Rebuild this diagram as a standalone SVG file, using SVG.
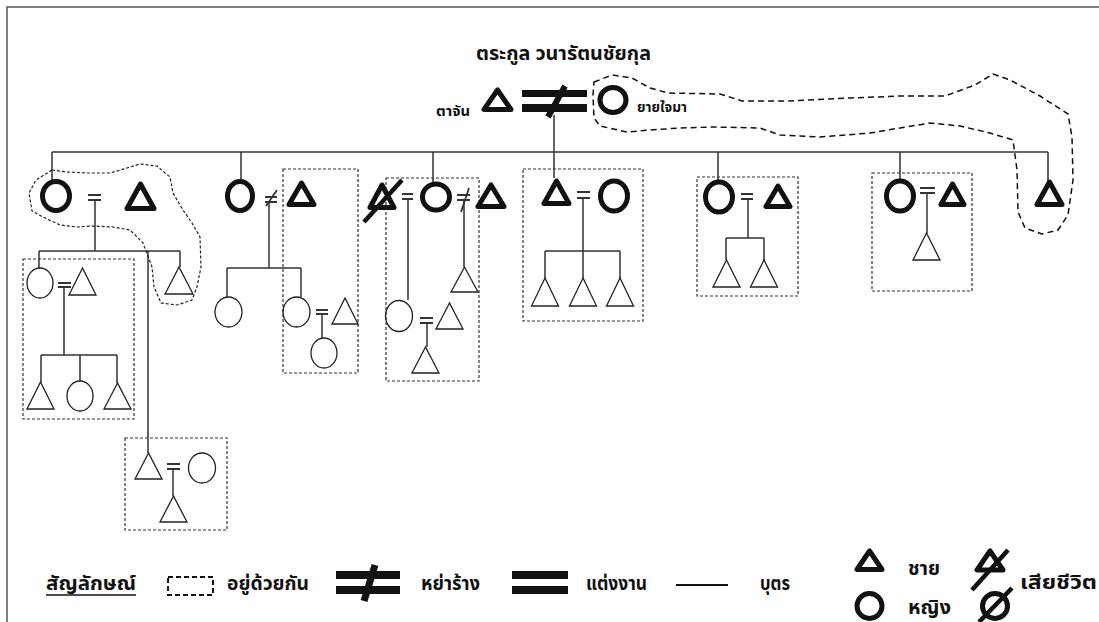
<svg xmlns="http://www.w3.org/2000/svg" width="1099" height="622" viewBox="0 0 1099 622">
<style>
text{font-family:"Noto Sans Thai","Noto Sans","DejaVu Sans",sans-serif;fill:#111;font-weight:bold}
.tk{fill:none;stroke:#111;stroke-width:5;stroke-linejoin:round}
.tn{fill:none;stroke:#222;stroke-width:1.3}
.ln{fill:none;stroke:#333;stroke-width:1.5}
.eq{stroke:#333;stroke-width:1.8}
.box{fill:none;stroke:#333;stroke-width:1.2;stroke-dasharray:3 2}
.cl{fill:none;stroke:#222;stroke-width:1.2;stroke-dasharray:3 2;stroke-linejoin:round}
.cl2{fill:none;stroke:#111;stroke-width:1.5;stroke-dasharray:6 4;stroke-linejoin:round}
.bar{fill:#111}
.sl{stroke:#111;stroke-width:6}
.lg{font-size:18.5px}
</style>
<rect width="1099" height="622" fill="#fff"/>
<path d="M7,622 V7 H1099" fill="none" stroke="#555" stroke-width="1.5"/>
<text x="476" y="60" font-size="19.5" textLength="175" lengthAdjust="spacingAndGlyphs">ตระกูล วนารัตนชัยกุล</text>

<g id="connectors" class="ln">
<path d="M554,115 V178"/>
<path d="M52,152 H1048"/>
<path d="M52,152 V181 M241,152 V181 M433,152 V182 M718,152 V182 M900,152 V181 M1048,152 V181"/>
<path d="M95,200 V251 M39,251 H180 M39,251 V268 M180,251 V267 M148,251 V453"/>
<path d="M64,287 V355 M41,355 H117 M41,355 V382 M80,355 V381 M117,355 V383"/>
<path d="M173,469 V496"/>
<path d="M269,202 V268 M227,268 H301 M227,268 V297 M301,268 V297 M322,314 V338"/>
<path d="M408,199 V300 M464,200 V267 M427,323 V347"/>
<path d="M583,198 V251 M545,251 H620 M545,251 V278 M583,251 V278 M620,251 V278"/>
<path d="M748,199 V238 M726,238 H764 M726,238 V260 M764,238 V260"/>
<path d="M927,193 V233"/>
</g>

<g id="marriages" class="eq">
<path d="M88,195 H101 M88,200 H101"/>
<path d="M58,283 H71 M58,287 H71"/>
<path d="M167,464 H180 M167,469 H180"/>
<path d="M265,197 H277 M265,202 H277 M277,190 L266,206"/>
<path d="M316,310 H328 M316,314 H328"/>
<path d="M402,194 H413 M402,199 H413"/>
<path d="M457,195 H470 M457,200 H470 M469,188 L461,212"/>
<path d="M420,318 H433 M420,323 H433"/>
<path d="M577,192 H590 M577,198 H590"/>
<path d="M741,194 H753 M741,199 H753"/>
<path d="M920,188 H935 M920,193 H935"/>
</g>

<g id="ancestors">
<g id="p-tajan">
<text x="436" y="116" font-size="14" textLength="34" lengthAdjust="spacingAndGlyphs">ตาจัน</text>
<polygon class="tk" points="497.5,90 484,109.5 511,109.5"/>
</g>
<g id="m-top">
<rect class="bar" x="522" y="90" width="65" height="7"/>
<rect class="bar" x="522" y="104" width="65" height="8"/>
<line class="sl" x1="565" y1="86" x2="548" y2="117"/>
</g>
<g id="p-yai">
<ellipse class="tk" cx="613" cy="100" rx="13" ry="12.5"/>
<text x="637" y="112" font-size="14" textLength="50" lengthAdjust="spacingAndGlyphs">ยายใจมา</text>
</g>
</g>

<g id="family1">
<path class="cl" d="M52,170 L67,172 L87,173 L110,173 L127,168 L140,164 L157,166 L170,177 L173,193 L183,210 L192,223 L200,237 L201,267 L197,287 L192,300 L177,305 L161,303 L154,287 L152,267 L143,243 L130,230 L113,227 L93,226 L77,227 L60,225 L43,217 L32,211 L29,193 L36,180 Z"/>
<ellipse class="tk" cx="56" cy="196" rx="13.5" ry="14.5"/>
<polygon class="tk" points="140.5,184 127,208.5 154,208.5"/>
<polygon class="tn" points="179,267 165,294 193,294"/>
<g id="family1a">
<rect class="box" x="23" y="259" width="111" height="160"/>
<ellipse class="tn" cx="40" cy="283" rx="13" ry="15"/>
<polygon class="tn" points="82.5,268 69,295 96,295"/>
<polygon class="tn" points="40.5,382 27,409 54,409"/>
<ellipse class="tn" cx="80" cy="396" rx="13" ry="15"/>
<polygon class="tn" points="117.5,383 104,409 131,409"/>
</g>
<g id="family1b">
<rect class="box" x="125" y="438" width="102" height="92"/>
<polygon class="tn" points="148.5,453 135,479 162,479"/>
<ellipse class="tn" cx="202" cy="468" rx="13.5" ry="15"/>
<polygon class="tn" points="173.5,496 160,522 187,522"/>
</g>
</g>

<g id="family2">
<rect class="box" x="283" y="169" width="75" height="204"/>
<ellipse class="tk" cx="240" cy="196" rx="12.5" ry="14.5"/>
<polygon class="tk" points="301.5,183 289,204.5 314,204.5"/>
<ellipse class="tn" cx="228.5" cy="312" rx="13.5" ry="15"/>
<ellipse class="tn" cx="296.5" cy="312" rx="13.5" ry="15"/>
<polygon class="tn" points="345,298 332,324 358,324"/>
<ellipse class="tn" cx="324" cy="353" rx="13" ry="15"/>
</g>

<g id="family3">
<rect class="box" x="386" y="178" width="93" height="203"/>
<polygon class="tk" points="382,185 370,207.5 394,207.5"/>
<line x1="402" y1="180" x2="364" y2="222" stroke="#111" stroke-width="4.5"/>
<ellipse class="tk" cx="436" cy="197" rx="13.5" ry="13"/>
<polygon class="tk" points="491,185 478,206.5 504,206.5"/>
<polygon class="tn" points="464.5,267 451,292 478,292"/>
<ellipse class="tn" cx="399" cy="316" rx="13.5" ry="15.5"/>
<polygon class="tn" points="449.5,303 436,329 463,329"/>
<polygon class="tn" points="425.5,347 412,373 439,373"/>
</g>

<g id="family4">
<rect class="box" x="523" y="169" width="120" height="152"/>
<polygon class="tk" points="556.5,181 544,203.5 569,203.5"/>
<ellipse class="tk" cx="614" cy="196" rx="13.5" ry="15"/>
<polygon class="tn" points="545,278 531.5,306 558.5,306"/>
<polygon class="tn" points="583,278 569.5,306 596.5,306"/>
<polygon class="tn" points="620,278 606.5,306 633.5,306"/>
</g>

<g id="family5">
<rect class="box" x="697" y="177" width="101" height="119"/>
<ellipse class="tk" cx="719" cy="197" rx="13.5" ry="15"/>
<polygon class="tk" points="778,186 766,206.5 790,206.5"/>
<polygon class="tn" points="726.5,260 713,287 740,287"/>
<polygon class="tn" points="764,260 750.5,287 777.5,287"/>
</g>

<g id="family6">
<rect class="box" x="872" y="173" width="100" height="118"/>
<ellipse class="tk" cx="900" cy="196" rx="13.5" ry="15"/>
<polygon class="tk" points="952.5,184 941,204.5 964,204.5"/>
<polygon class="tn" points="926.5,233 913,260 940,260"/>
</g>

<g id="family7">
<path class="cl2" d="M594,82 L612,75 L632,78 L650,88 L668,93 L720,94 L742,101 L790,101 L850,98 L900,96 L945,96 L975,85 L993,74 L1010,80 L1040,96 L1068,114 L1072,137 L1073,180 L1068,215 L1058,230 L1042,234 L1025,228 L1018,212 L1017,170 L1013,140 L990,133 L960,126 L930,123 L900,128 L870,133 L820,137 L780,135 L760,128 L713,127 L680,128 L650,130 L627,132 L600,126 L594,118 L593,95 Z"/>
<polygon class="tk" points="1049.5,182 1037,204.5 1062,204.5"/>
</g>

<g id="legend">
<text class="lg" x="46" y="590" textLength="90" lengthAdjust="spacingAndGlyphs">สัญลักษณ์</text>
<line x1="46" y1="595" x2="136" y2="595" stroke="#111" stroke-width="1.3"/>
<rect x="168" y="577" width="45" height="18" fill="none" stroke="#111" stroke-width="2" stroke-dasharray="5 3"/>
<text class="lg" x="227" y="590" textLength="82" lengthAdjust="spacingAndGlyphs">อยู่ด้วยกัน</text>
<rect class="bar" x="336" y="571" width="64" height="8"/>
<rect class="bar" x="336" y="586" width="64" height="8"/>
<line x1="375" y1="565" x2="364" y2="601" stroke="#111" stroke-width="7"/>
<text class="lg" x="421" y="590" textLength="59" lengthAdjust="spacingAndGlyphs">หย่าร้าง</text>
<rect class="bar" x="512" y="571" width="56" height="8"/>
<rect class="bar" x="512" y="586" width="56" height="8"/>
<text class="lg" x="586" y="590" textLength="61" lengthAdjust="spacingAndGlyphs">แต่งงาน</text>
<line x1="676" y1="585" x2="728" y2="585" stroke="#111" stroke-width="2"/>
<text class="lg" x="760" y="590" textLength="30" lengthAdjust="spacingAndGlyphs">บุตร</text>
<polygon class="tk" points="869.5,551 857,569.5 882,569.5"/>
<text class="lg" x="908" y="575" textLength="32" lengthAdjust="spacingAndGlyphs">ชาย</text>
<ellipse class="tk" cx="869.5" cy="606" rx="12.5" ry="12.5"/>
<text class="lg" x="908" y="614" textLength="43" lengthAdjust="spacingAndGlyphs">หญิง</text>
<polygon class="tk" points="990,551 977,570 1003,570"/>
<line x1="1008" y1="550" x2="972" y2="590" stroke="#111" stroke-width="4.5"/>
<ellipse class="tk" cx="995" cy="606" rx="12.5" ry="12.5"/>
<line x1="1012" y1="588" x2="979" y2="622" stroke="#111" stroke-width="4.5"/>
<text class="lg" x="1020" y="589" textLength="77" lengthAdjust="spacingAndGlyphs">เสียชีวิต</text>
</g>
</svg>
